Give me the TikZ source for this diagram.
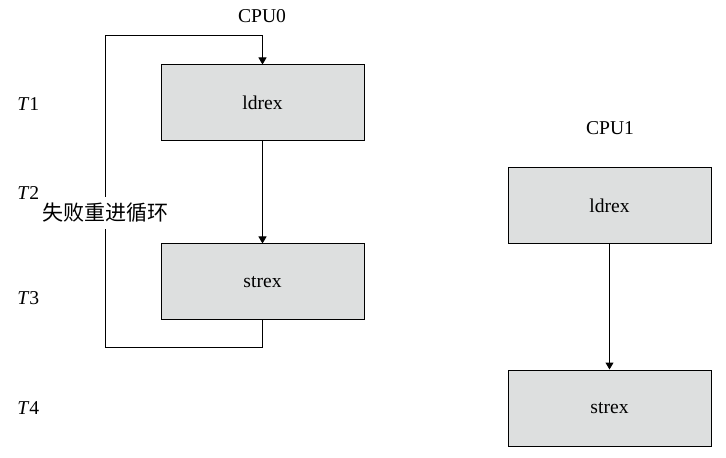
\documentclass[tikz,border=0pt]{standalone}
\usepackage{fontspec}
\setmainfont{Liberation Serif}
\newfontfamily\cjk{Noto Sans CJK SC}
\usepackage{tikz}
\usetikzlibrary{arrows.meta, positioning}

\definecolor{boxgray}{RGB}{221,223,223}

\tikzset{
    opbox/.style={draw, fill=boxgray, line width=0.5pt,
        minimum width=101.5pt, minimum height=38pt, inner sep=0pt},
    flow/.style={line width=0.5pt, -{Triangle[width=4pt,length=3.5pt]}},
    tlabel/.style={inner sep=0pt, anchor=west}
}

\begin{document}
\begin{tikzpicture}[x=1pt,y=1pt,font=\fontsize{9.8}{12}\selectfont]
\useasboundingbox (0,0) rectangle (363,-229);

% CPU0
\node (cpu0) at (131,-8) {CPU0};
\node[opbox] (ldrex0) at (131.25,-51.5) {ldrex};
\node[opbox, below=51pt of ldrex0] (strex0) {strex};

% CPU1
\node (cpu1) at (305,-64) {CPU1};
\node[opbox] (ldrex1) at (304.75,-103) {ldrex};
\node[opbox, below=62.5pt of ldrex1] (strex1) {strex};

% time steps
\node[tlabel] (t1) at (8.5,-52) {\textit{T}1};
\node[tlabel] (t2) at (8.5,-96.5) {\textit{T}2};
\node[tlabel] (t3) at (8.5,-149) {\textit{T}3};
\node[tlabel] (t4) at (8.5,-204) {\textit{T}4};

% retry loop
\coordinate (loopbl) at (52.5,-173.5);
\coordinate (looptl) at (52.5,-18);

% Arrows
\draw[flow] (ldrex0) -- (strex0);
\draw[flow] (ldrex1) -- (strex1);
\draw[flow] (strex0.south) |- (loopbl) -- (looptl) -| (ldrex0.north);

\node[fill=white, inner xsep=0pt, inner ysep=3pt, font=\cjk\fontsize{10.5}{12}\selectfont]
    (retry) at (52.5,-106.5) {失败重进循环};

\end{tikzpicture}
\end{document}
